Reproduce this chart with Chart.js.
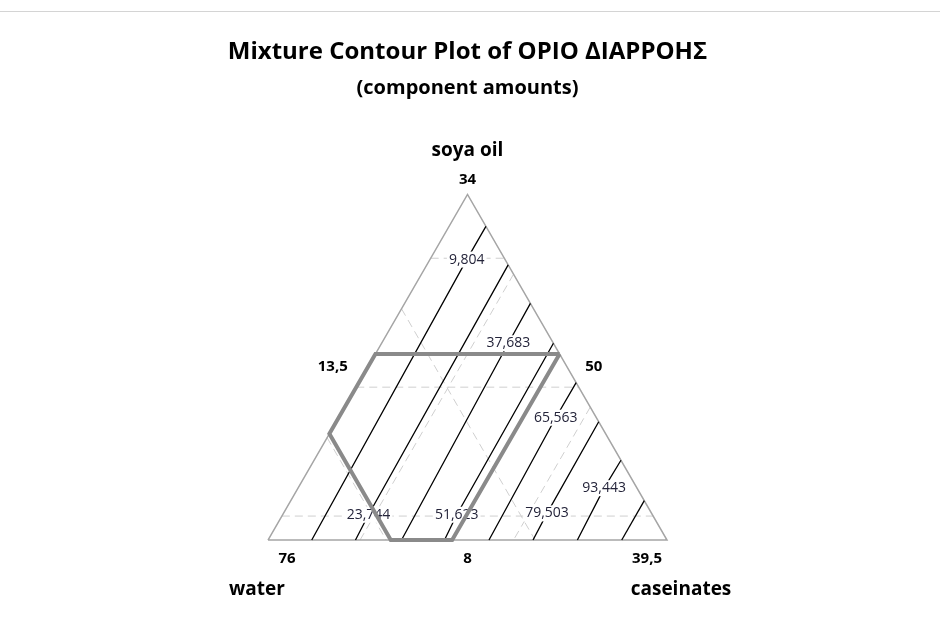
<!DOCTYPE html>
<html>
<head>
<meta charset="utf-8">
<title>Mixture Contour Plot</title>
<script src="https://cdn.jsdelivr.net/npm/chart.js@4.4.1/dist/chart.umd.min.js"></script>
<style>
  body { margin: 0; background: #fff; }
  #wrap { position: relative; width: 940px; height: 635px; }
</style>
</head>
<body>
<div id="wrap"><canvas id="chart"></canvas></div>
<script>
// component amounts: soya oil (top), water (left), caseinates (right)
const componentNames = ['soya oil', 'water', 'caseinates'];
const lowerBounds = [8, 50, 13.5];
const upperBounds = [34, 76, 39.5];
const vertexTicks = ['34', '76', '39,5'];
const edgeTicks = ['13,5', '50', '8'];   // left, right, bottom edge midpoints

// reference grid lines, one set per component
const gridSoya = [9.8, 19.5, 29.2];
const gridWater = [58.6, 68.3];
const gridCaseinates = [19.5, 29.5, 39.4];

// contour levels and their traced paths as [soya oil, caseinates] pairs
const contourLevels = [9.804, 23.744, 37.683, 51.623, 65.563, 79.503, 93.443, 107.383];
const contourPaths = [
  [[31.6, 15.9], [29.1, 15.9], [8, 16.35]],
  [[28.7, 18.8], [9.9, 19.1], [8, 19.2]],
  [[25.8, 21.7], [22.8, 21.76], [8, 22.2]],
  [[22.8, 24.7], [9.9, 24.85], [8, 25.0]],
  [[19.84, 27.66], [17.2, 27.65], [8, 27.9]],
  [[16.9, 30.6], [10.0, 30.68], [8, 30.77]],
  [[14.0, 33.5], [11.9, 33.45], [8, 33.66]],
  [[10.96, 36.54], [8, 36.55]]
];
// soya oil amount where each level's label sits on its line (last level unlabelled)
const labelAt = [29.1, 9.9, 22.8, 9.9, 17.2, 10.0, 11.9];

// constrained design region as [soya oil, caseinates]
const regionPoints = [[22, 25.5], [22, 13.5], [16, 13.5], [8, 21.5], [8, 25.5], [22, 25.5]];

const total = lowerBounds[0] + lowerBounds[1] + lowerBounds[2] + (upperBounds[0] - lowerBounds[0]);
const range = upperBounds[0] - lowerBounds[0];
const H = Math.sqrt(3) / 2;

// soya oil + caseinates -> triangle coordinates (water at x=0, caseinates at x=1)
function toXY(soya, cas) {
  const s = (soya - lowerBounds[0]) / range;
  const c = (cas - lowerBounds[2]) / range;
  return { x: c + s / 2, y: s * H };
}
function waterToCas(water, soya) {
  return total - water - soya;
}

// pixel frame of the triangle
const X0 = 268, Y0 = 540, UNIT = 399;
const xMin = -0.1, xMax = 1.1, yMin = -0.1, yMax = 1.0;

const datasets = [];

function lineSet(points, color, width, dash, order, extra) {
  return Object.assign({
    data: points,
    showLine: true,
    borderColor: color,
    borderWidth: width,
    borderDash: dash,
    pointRadius: 0,
    fill: false,
    tension: 0,
    order: order,
    clip: false
  }, extra || {});
}

const gridColor = '#cfcfcf';
const gridDash = [8, 5];
const topS = upperBounds[0], botS = lowerBounds[0];
gridSoya.forEach(v => {
  const c0 = lowerBounds[2];
  const c1 = total - lowerBounds[1] - v;
  datasets.push(lineSet([toXY(v, c0), toXY(v, c1)], gridColor, 1, gridDash, 50));
});
gridWater.forEach(w => {
  // from left edge (caseinates at min) to bottom edge (soya at min)
  const sLeft = total - w - lowerBounds[2];
  datasets.push(lineSet([toXY(sLeft, lowerBounds[2]), toXY(botS, waterToCas(w, botS))], gridColor, 1, gridDash, 50));
});
gridCaseinates.forEach(c => {
  // from right edge (water at min) to bottom edge
  const sRight = total - lowerBounds[1] - c;
  datasets.push(lineSet([toXY(sRight, c), toXY(botS, c)], gridColor, 1, gridDash, 50));
});

// triangle outline
datasets.push(lineSet([
  toXY(botS, lowerBounds[2]), toXY(topS, lowerBounds[2]),
  toXY(botS, upperBounds[2]), toXY(botS, lowerBounds[2])
], '#a5a5a5', 1.5, [], 40));

// contour lines
contourPaths.forEach(path => {
  datasets.push(lineSet(path.map(p => toXY(p[0], p[1])), '#000000', 1.3, [], 30));
});

// design region outline
datasets.push(lineSet(regionPoints.map(p => toXY(p[0], p[1])), '#8a8a8a', 4, [], 10, { isRegion: true }));

function fmt(v) {
  return v.toFixed(3).replace('.', ',');
}

// point on a traced path at a given soya oil amount
function pointOnPath(path, soya) {
  for (let i = 0; i < path.length - 1; i++) {
    const a = path[i], b = path[i + 1];
    if ((soya <= a[0] && soya >= b[0]) || (soya >= a[0] && soya <= b[0])) {
      const t = (soya - a[0]) / (b[0] - a[0]);
      return [soya, a[1] + t * (b[1] - a[1])];
    }
  }
  return path[0];
}

const contourLabels = {
  id: 'contourLabels',
  beforeDatasetDraw(chart, args) {
    if (!chart.data.datasets[args.index].isRegion) return;
    const ctx = chart.ctx;
    const xs = chart.scales.x, ys = chart.scales.y;
    ctx.save();
    ctx.font = '14px "Open Sans", "Noto Sans", sans-serif';
    ctx.textAlign = 'center';
    ctx.textBaseline = 'middle';
    labelAt.forEach((soya, i) => {
      const p = pointOnPath(contourPaths[i], soya);
      const q = toXY(p[0], p[1]);
      const px = xs.getPixelForValue(q.x), py = ys.getPixelForValue(q.y);
      const text = fmt(contourLevels[i]);
      const w = ctx.measureText(text).width;
      ctx.fillStyle = '#ffffff';
      ctx.fillRect(px - w / 2 - 2, py - 8, w + 4, 16);
      ctx.fillStyle = '#24243a';
      ctx.fillText(text, px, py);
    });
    ctx.restore();
  }
};

const frameText = {
  id: 'frameText',
  afterDraw(chart) {
    const ctx = chart.ctx;
    const xs = chart.scales.x, ys = chart.scales.y;
    const pix = q => [xs.getPixelForValue(q.x), ys.getPixelForValue(q.y)];
    const apex = pix(toXY(topS, lowerBounds[2]));
    const left = pix(toXY(botS, lowerBounds[2]));
    const right = pix(toXY(botS, upperBounds[2]));
    const cx = apex[0];
    ctx.save();
    // top rule
    ctx.strokeStyle = '#d4d4d4';
    ctx.lineWidth = 1;
    ctx.beginPath();
    ctx.moveTo(0, 11.5);
    ctx.lineTo(940, 11.5);
    ctx.stroke();

    ctx.fillStyle = '#000000';
    ctx.textBaseline = 'middle';
    ctx.textAlign = 'center';
    ctx.font = 'bold 24px "Open Sans", "Noto Sans", sans-serif';
    ctx.fillText('Mixture Contour Plot of ΟΡΙΟ ΔΙΑΡΡΟΗΣ', cx, 52);
    ctx.font = 'bold 20px "Open Sans", "Noto Sans", sans-serif';
    ctx.fillText('(component amounts)', cx, 88);

    ctx.font = 'bold 19px "Open Sans", "Noto Sans", sans-serif';
    ctx.fillText(componentNames[0], cx, apex[1] - 44);
    ctx.fillText(componentNames[1], left[0] - 11, 590);
    ctx.fillText(componentNames[2], right[0] + 14, 590);

    ctx.font = 'bold 15px "Open Sans", "Noto Sans", sans-serif';
    ctx.fillText(vertexTicks[0], cx, apex[1] - 15);
    ctx.fillText(vertexTicks[1], left[0] + 19, 559);
    ctx.fillText(vertexTicks[2], right[0] - 20, 559);
    ctx.fillText(edgeTicks[2], (left[0] + right[0]) / 2, 559);
    const midY = (apex[1] + left[1]) / 2;
    ctx.textAlign = 'right';
    ctx.fillText(edgeTicks[0], (apex[0] + left[0]) / 2 - 20, midY);
    ctx.textAlign = 'left';
    ctx.fillText(edgeTicks[1], (apex[0] + right[0]) / 2 + 18, midY);
    ctx.restore();
  }
};

new Chart(document.getElementById('chart'), {
  type: 'scatter',
  data: { datasets: datasets },
  options: {
    responsive: true,
    maintainAspectRatio: false,
    animation: false,
    layout: {
      padding: {
        left: X0 + xMin * UNIT,
        right: 940 - (X0 + xMax * UNIT),
        top: Y0 - yMax * UNIT,
        bottom: 635 - (Y0 - yMin * UNIT)
      }
    },
    scales: {
      x: { type: 'linear', min: xMin, max: xMax, display: false },
      y: { type: 'linear', min: yMin, max: yMax, display: false }
    },
    plugins: {
      legend: { display: false },
      tooltip: { enabled: false }
    }
  },
  plugins: [contourLabels, frameText]
});
</script>
</body>
</html>
